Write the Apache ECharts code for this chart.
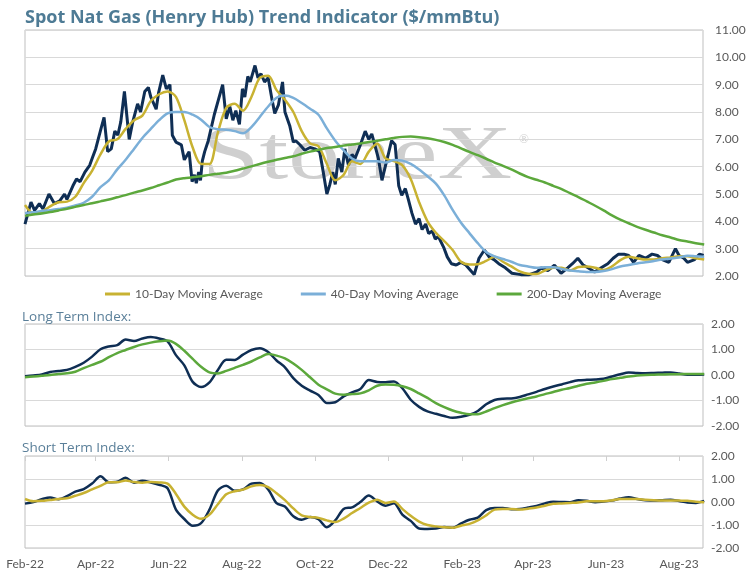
<!DOCTYPE html>
<html>
<head>
<meta charset="utf-8">
<title>Spot Nat Gas Trend Indicator</title>
<script src="https://cdn.jsdelivr.net/npm/echarts@6.0.0/dist/echarts.min.js"></script>
<style>
    html, body { margin: 0; padding: 0; background: #fff; }
    #chart { width: 753px; height: 575px; }
</style>
</head>
<body>
<div id="chart"></div>
<script>
    // time range of the chart
    const startDate = '2022-02-01';
    const endDate = '2023-08-21';

    // x axis labels (every 2 months)
    const tickDates = ['2022-02-01', '2022-04-01', '2022-06-01', '2022-08-01', '2022-10-01',
        '2022-12-01', '2023-02-01', '2023-04-01', '2023-06-01', '2023-08-01'];
    const tickLabels = ['Feb-22', 'Apr-22', 'Jun-22', 'Aug-22', 'Oct-22',
        'Dec-22', 'Feb-23', 'Apr-23', 'Jun-23', 'Aug-23'];

    // spot price, days after startDate
    const spotDay = [0, 5, 8, 12, 15, 20, 24.5, 29, 33, 35,
        40, 43, 46, 50, 54, 56.5, 59, 63.5, 66, 69,
        72, 75, 77.5, 80, 83, 87, 90, 94, 96.5, 100,
        103, 105, 109.5, 111.5, 115, 118, 121, 123, 126, 130.5,
        133, 137, 139.5, 141.5, 143, 145, 146.5, 148, 150, 153,
        158, 161.5, 165, 168, 171, 173.5, 176, 179, 181.5, 183.5,
        186, 188, 192, 194.5, 197, 200, 203, 206, 208.5, 211.5,
        215, 217, 221, 224, 226, 229.5, 233.5, 238, 242, 246,
        249, 252, 254.5, 257, 259, 261.5, 264.5, 267, 270, 273,
        275.5, 280, 284, 287, 289.5, 292, 295, 298, 301, 303,
        306, 309, 312, 314.5, 317.5, 320, 323, 326, 329, 331.5,
        334.5, 337, 340, 342.5, 345, 349.5, 352.5, 356, 360, 364,
        368, 372, 375, 379, 383.5, 387.5, 391.5, 395.5, 401, 406.5,
        414, 421, 427.5, 431, 436.5, 442, 447.5, 453, 457, 461.5,
        466, 470, 475.5, 481, 486.5, 491, 495.5, 500, 504, 508,
        512.5, 518, 523.5, 528, 532, 537.5, 543, 546, 550, 553,
        559, 563, 566.5];
    const spotPrice = [3.9, 4.7, 4.4, 4.65, 4.45, 5.0, 4.65, 4.75, 5.0, 4.8,
        5.3, 5.55, 5.45, 5.8, 6.05, 6.35, 6.65, 7.4, 7.8, 6.55,
        6.65, 7.3, 7.15, 7.65, 8.75, 7.0, 7.65, 8.3, 8.0, 8.75,
        8.9, 8.55, 8.1, 8.7, 9.35, 8.85, 9.0, 7.15, 6.9, 6.8,
        6.25, 6.55, 5.45, 5.7, 5.4, 5.8, 5.5, 6.2, 6.55, 6.95,
        7.9, 8.45, 9.0, 7.75, 8.2, 7.7, 8.05, 7.55, 8.85, 8.55,
        9.3, 9.1, 9.7, 9.25, 9.4, 9.1, 9.25, 8.5, 7.95, 8.25,
        9.1, 8.0, 7.5, 6.9, 6.95, 6.8, 6.6, 6.7, 6.65, 6.55,
        5.8, 5.0, 5.35, 5.8, 5.35, 6.3, 5.8, 6.65, 6.05, 6.45,
        6.3, 6.8, 7.3, 7.0, 7.2, 6.8, 6.3, 5.5, 6.05, 6.4,
        6.95, 6.8, 5.3, 4.95, 5.2, 4.8, 4.3, 3.9, 4.1, 3.7,
        3.9, 3.55, 3.65, 3.35, 3.45, 3.05, 2.7, 2.45, 2.4, 2.5,
        2.4, 2.2, 2.05, 2.65, 2.95, 2.7, 2.6, 2.45, 2.3, 2.1,
        2.05, 2.05, 2.15, 2.3, 2.2, 2.4, 2.1, 2.3, 2.45, 2.65,
        2.4, 2.3, 2.15, 2.3, 2.45, 2.65, 2.8, 2.8, 2.75, 2.5,
        2.75, 2.65, 2.8, 2.75, 2.6, 2.5, 3.0, 2.75, 2.65, 2.5,
        2.6, 2.8, 2.75];

    // weekly values (one every 7 days from startDate)
    const ma10 = [4.6, 4.3, 4.35, 4.55, 4.7, 4.72, 4.9, 5.4, 5.85, 6.45,
        6.92, 7.0, 7.38, 7.7, 7.87, 8.4, 8.65, 8.75, 8.55, 7.7,
        6.7, 6.1, 6.1, 7.25, 8.15, 8.3, 8.05, 8.55, 9.25, 9.33,
        8.8, 8.45, 8.0, 7.3, 6.85, 6.75, 6.1, 5.5, 5.7, 6.2,
        6.1, 6.55, 6.85, 6.3, 6.2, 6.05, 5.55, 4.7, 4.0, 3.58,
        3.28, 2.95, 2.52, 2.42, 2.43, 2.55, 2.7, 2.52, 2.35, 2.17,
        2.08, 2.07, 2.2, 2.3, 2.3, 2.2, 2.33, 2.35, 2.3, 2.22,
        2.35, 2.58, 2.7, 2.65, 2.6, 2.6, 2.65, 2.68, 2.72, 2.72,
        2.65, 2.6];
    const ma40 = [4.3, 4.33, 4.38, 4.41, 4.45, 4.5, 4.58, 4.68, 4.9, 5.25,
        5.5, 5.9, 6.25, 6.65, 7.05, 7.38, 7.7, 7.95, 8.0, 8.0,
        7.9, 7.72, 7.45, 7.37, 7.35, 7.3, 7.22, 7.45, 7.82, 8.2,
        8.52, 8.6, 8.52, 8.33, 8.12, 7.9, 7.4, 6.95, 6.6, 6.3,
        6.2, 6.2, 6.2, 6.15, 6.24, 6.22, 6.1, 5.9, 5.65, 5.38,
        4.95, 4.42, 3.95, 3.57, 3.2, 2.88, 2.72, 2.62, 2.52, 2.4,
        2.35, 2.3, 2.32, 2.32, 2.26, 2.2, 2.17, 2.15, 2.15, 2.18,
        2.25, 2.35, 2.4, 2.46, 2.5, 2.55, 2.6, 2.64, 2.68, 2.74,
        2.72, 2.7];
    const ma200 = [4.2, 4.25, 4.29, 4.34, 4.4, 4.46, 4.53, 4.6, 4.66, 4.73,
        4.8, 4.88, 4.96, 5.05, 5.13, 5.22, 5.32, 5.42, 5.53, 5.58,
        5.61, 5.65, 5.7, 5.74, 5.78, 5.85, 5.93, 6.01, 6.1, 6.18,
        6.25, 6.32, 6.38, 6.47, 6.55, 6.62, 6.68, 6.72, 6.77, 6.81,
        6.85, 6.9, 6.95, 7.0, 7.05, 7.09, 7.1, 7.08, 7.04, 6.98,
        6.9, 6.8, 6.67, 6.54, 6.42, 6.29, 6.15, 6.03, 5.9, 5.75,
        5.62, 5.52, 5.42, 5.3, 5.18, 5.03, 4.89, 4.73, 4.57, 4.4,
        4.22, 4.06, 3.93, 3.8, 3.69, 3.59, 3.49, 3.41, 3.32, 3.26,
        3.2, 3.15];
    const longIndex = [-0.05, -0.02, 0.02, 0.12, 0.16, 0.2, 0.32, 0.48, 0.72, 1.01,
        1.12, 1.17, 1.39, 1.33, 1.43, 1.49, 1.43, 1.32, 0.78, 0.38,
        -0.27, -0.47, -0.29, 0.2, 0.6, 0.59, 0.8, 0.98, 1.05, 0.9,
        0.57, 0.3, -0.12, -0.42, -0.61, -0.78, -1.1, -1.07, -0.84, -0.68,
        -0.55, -0.2, -0.27, -0.28, -0.25, -0.52, -0.97, -1.25, -1.43, -1.52,
        -1.61, -1.68, -1.64, -1.56, -1.41, -1.15, -0.98, -0.93, -0.92, -0.86,
        -0.76, -0.66, -0.55, -0.45, -0.37, -0.28, -0.21, -0.19, -0.18, -0.15,
        -0.06, 0.03, 0.1, 0.08, 0.07, 0.08, 0.09, 0.1, 0.06, 0.01,
        0.01, 0.02];
    const longSignal = [-0.09, -0.06, -0.03, 0.0, 0.04, 0.07, 0.13, 0.27, 0.4, 0.52,
        0.7, 0.86, 0.98, 1.1, 1.2, 1.27, 1.32, 1.35, 1.22, 0.95,
        0.63, 0.32, 0.1, 0.06, 0.16, 0.28, 0.4, 0.53, 0.69, 0.82,
        0.76, 0.65, 0.45, 0.2, -0.09, -0.38, -0.56, -0.73, -0.77, -0.75,
        -0.72, -0.6, -0.42, -0.37, -0.38, -0.44, -0.55, -0.72, -0.9, -1.1,
        -1.26, -1.39, -1.48, -1.54, -1.54, -1.43, -1.3, -1.18, -1.08, -0.99,
        -0.91, -0.84, -0.75, -0.67, -0.58, -0.51, -0.42, -0.34, -0.29, -0.23,
        -0.16, -0.11, -0.06, -0.02, 0.0, 0.01, 0.02, 0.03, 0.03, 0.04,
        0.04, 0.04];
    const shortIndex = [-0.07, 0.0, 0.12, 0.2, 0.12, 0.25, 0.45, 0.56, 0.8, 1.12,
        0.86, 0.88, 1.05, 0.84, 0.92, 0.85, 0.75, 0.6, -0.33, -0.74,
        -1.03, -0.92, -0.33, 0.5, 0.71, 0.49, 0.55, 0.8, 0.83, 0.55,
        -0.05, -0.2, -0.62, -0.77, -0.65, -0.75, -1.1, -0.8, -0.3, -0.23,
        0.0, 0.28, 0.03, -0.16, -0.05, -0.55, -0.82, -1.15, -1.17, -1.15,
        -1.09, -1.12, -0.93, -0.77, -0.68, -0.35, -0.26, -0.26, -0.31, -0.3,
        -0.24, -0.17, -0.06, 0.01, 0.0, -0.01, 0.08, 0.05, -0.01, 0.02,
        0.06, 0.15, 0.21, 0.13, 0.08, 0.06, 0.08, 0.1, 0.04, -0.02,
        -0.04, 0.05];
    const shortSignal = [0.13, 0.03, 0.05, 0.09, 0.13, 0.16, 0.27, 0.39, 0.55, 0.7,
        0.86, 0.86, 0.93, 0.87, 0.84, 0.87, 0.85, 0.8, 0.35, -0.2,
        -0.55, -0.73, -0.55, -0.1, 0.34, 0.47, 0.54, 0.68, 0.74, 0.65,
        0.38, 0.08, -0.28, -0.58, -0.65, -0.69, -0.8, -0.87, -0.72, -0.48,
        -0.26, -0.03, 0.1, -0.04, 0.02, -0.3, -0.6, -0.85, -1.0, -1.06,
        -1.1, -1.12, -1.03, -0.95, -0.8, -0.58, -0.33, -0.3, -0.3, -0.33,
        -0.29, -0.24, -0.16, -0.08, -0.06, -0.04, -0.02, 0.03, 0.03, 0.03,
        0.07, 0.13, 0.13, 0.13, 0.1, 0.08, 0.07, 0.07, 0.06, 0.05,
        0.01, -0.01];

    // x is counted in days after startDate
    const DAY = 86400000;
    const t0 = Date.parse(startDate);
    const lastDay = (Date.parse(endDate) - t0) / DAY;
    const tickDays = tickDates.map(d => (Date.parse(d) - t0) / DAY);
    const weekDays = ma10.map((v, i) => i * 7);

    const pairs = (xs, vals) => vals.map((v, i) => [xs[i], v]);

    const FONT = 'Lato';
    const HEAD_FONT = 'Open Sans';
    const NAVY = '#0f2e54';
    const GOLD = '#c8b232';
    const BLUE = '#7bafd8';
    const GREEN = '#5ca83c';

    function tickLabel(v) {
        const i = tickDays.indexOf(v);
        return i >= 0 ? tickLabels[i] : '';
    }

    function xAxis(grid, showLabels) {
        return {
            type: 'value', gridIndex: grid, min: 0, max: lastDay,
            axisLine: { show: false },
            axisTick: { show: false },
            splitLine: { show: false },
            axisLabel: showLabels ? {
                show: true, customValues: tickDays, formatter: tickLabel,
                color: '#595959', fontSize: 12, fontFamily: FONT, margin: 10
            } : { show: false }
        };
    }

    function yAxis(grid, min, max, margin) {
        return {
            type: 'value', gridIndex: grid, position: 'right',
            min: min, max: max, interval: 1,
            axisLine: { show: false },
            axisTick: { show: false },
            splitLine: { lineStyle: { color: '#d9d9d9', width: 1 } },
            axisLabel: {
                color: '#595959', fontSize: 12, fontFamily: FONT, margin: margin,
                formatter: v => v.toFixed(2)
            }
        };
    }

    function line(name, data, color, width, x, y) {
        return {
            name: name, type: 'line', data: data,
            xAxisIndex: x, yAxisIndex: y,
            showSymbol: false, symbol: 'none',
            smooth: 0.3,
            lineStyle: { color: color, width: width },
            itemStyle: { color: color },
            emphasis: { disabled: true }
        };
    }

    const chart = echarts.init(document.getElementById('chart'));

    const gridBox = { show: true, borderColor: '#bfbfbf', borderWidth: 1, backgroundColor: 'transparent' };

    const option = {
        animation: false,
        backgroundColor: '#ffffff',
        title: [
            {
                text: 'Spot Nat Gas (Henry Hub) Trend Indicator ($/mmBtu)',
                left: 20, top: 4,
                textStyle: { color: '#4e7b95', fontSize: 18, fontWeight: 'bold', fontFamily: HEAD_FONT }
            },
            {
                text: 'Long Term Index:', left: 17, top: 305,
                textStyle: { color: '#5a7f99', fontSize: 13.5, fontWeight: 'normal', fontFamily: HEAD_FONT }
            },
            {
                text: 'Short Term Index:', left: 17, top: 436,
                textStyle: { color: '#5a7f99', fontSize: 13.5, fontWeight: 'normal', fontFamily: HEAD_FONT }
            }
        ],
        legend: {
            data: ['10-Day Moving Average', '40-Day Moving Average', '200-Day Moving Average'],
            left: 100, top: 283,
            icon: 'rect', itemWidth: 25, itemHeight: 3, itemGap: 38,
            textStyle: { color: '#595959', fontSize: 12, fontFamily: FONT }
        },
        graphic: [
            {
                type: 'text', x: 202, y: 120, scaleX: 1.36, z: 0, silent: true,
                style: {
                    text: 'StoneX', fill: 'rgba(160,160,160,0.5)',
                    font: '76px "Liberation Serif"', verticalAlign: 'top'
                }
            },
            {
                type: 'text', x: 519, y: 133, z: 0, silent: true,
                style: {
                    text: '\u00ae', fill: 'rgba(160,160,160,0.5)',
                    font: '13px "Liberation Serif"', verticalAlign: 'top'
                }
            }
        ],
        grid: [
            Object.assign({ left: 25, top: 30, width: 678, height: 246 }, gridBox),
            Object.assign({ left: 25, top: 324, width: 678, height: 102 }, gridBox),
            Object.assign({ left: 25, top: 456, width: 678, height: 92 }, gridBox)
        ],
        xAxis: [
            xAxis(0, false),
            xAxis(1, false),
            xAxis(2, true),
            {
                // small month ticks along the top of the short term panel
                type: 'value', gridIndex: 2, position: 'top', min: 0, max: lastDay,
                axisLine: { show: false },
                axisTick: { show: true, inside: true, length: 5, customValues: tickDays,
                    lineStyle: { color: '#cfcfcf' } },
                axisLabel: { show: false },
                splitLine: { show: false }
            }
        ],
        yAxis: [
            yAxis(0, 2, 11, 12),
            yAxis(1, -2, 2, 8),
            yAxis(2, -2, 2, 8)
        ],
        series: [
            Object.assign(line('Spot', pairs(spotDay, spotPrice), NAVY, 3, 0, 0), { smooth: false }),
            line('10-Day Moving Average', pairs(weekDays, ma10), GOLD, 2.5, 0, 0),
            line('40-Day Moving Average', pairs(weekDays, ma40), BLUE, 2.5, 0, 0),
            line('200-Day Moving Average', pairs(weekDays, ma200), GREEN, 2.5, 0, 0),
            line('Long Term Index', pairs(weekDays, longIndex), NAVY, 2.5, 1, 1),
            line('Long Term Signal', pairs(weekDays, longSignal), GREEN, 2.5, 1, 1),
            line('Short Term Index', pairs(weekDays, shortIndex), NAVY, 2.5, 2, 2),
            line('Short Term Signal', pairs(weekDays, shortSignal), GOLD, 2.5, 2, 2)
        ]
    };

    chart.setOption(option);
</script>
</body>
</html>
